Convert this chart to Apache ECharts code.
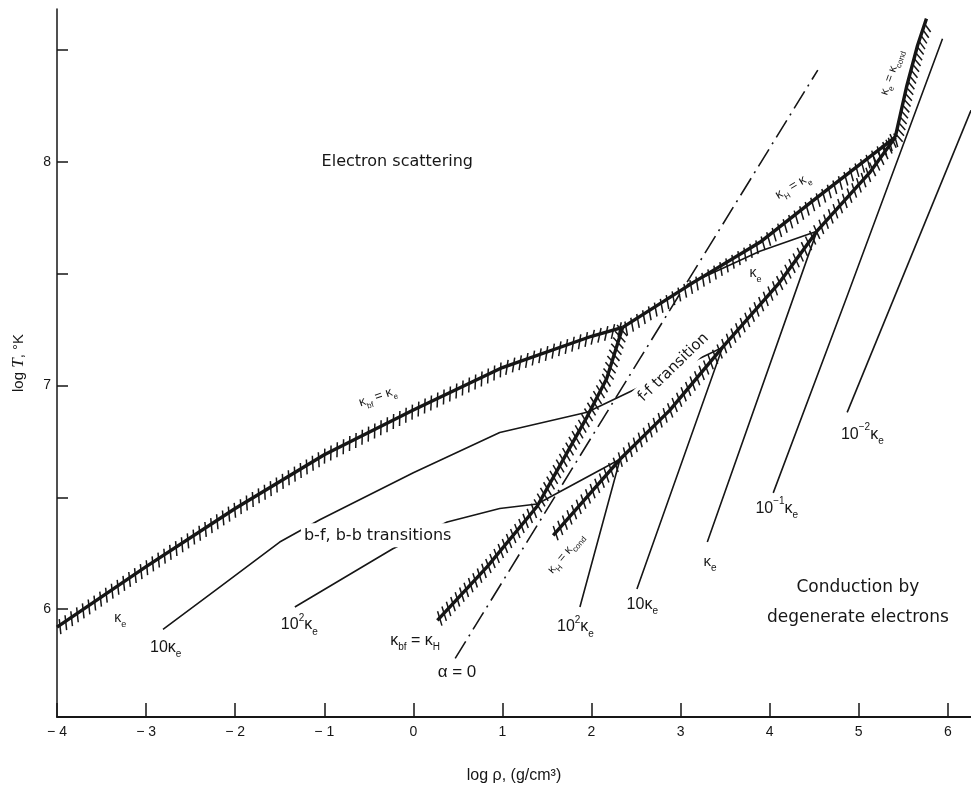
<!DOCTYPE html>
<html><head><meta charset="utf-8">
<script src="https://cdn.jsdelivr.net/npm/echarts@6/dist/echarts.min.js"></script>
<style>html,body{margin:0;padding:0;background:#fff}#c{width:971px;height:789px}</style>
</head><body><div id="c"></div>
<script>
// ---- axis ticks ----
const xTicks = [-4, -3, -2, -1, 0, 1, 2, 3, 4, 5, 6];
const yTickLabels = [6, 7, 8];
const yTicks = [6, 6.5, 7, 7.5, 8, 8.5];

// ---- hatched boundary curves [log rho, log T] ----
const kbfEqKe   = [[-4,5.92],[-3,6.19],[-2,6.45],[-1,6.69],[0,6.89],[1,7.08],[2,7.22],[2.35,7.26]];
const kHEqKe    = [[2.35,7.26],[3.14,7.46],[3.89,7.64],[4.53,7.84],[5.41,8.11]];
const kbfEqKH   = [[0.27,5.95],[0.83,6.19],[1.39,6.46],[1.95,6.86],[2.17,7.03],[2.35,7.26]];
const kHEqKcond = [[1.57,6.33],[2.32,6.67],[2.88,6.89],[3.47,7.17],[4.11,7.46],[4.53,7.69],[5.12,7.95],[5.41,8.11]];
const keEqKcond = [[5.41,8.11],[5.54,8.34],[5.66,8.52],[5.76,8.64]];

// ---- alpha = 0 (dash-dot) ----
const alphaZero = [[0.47,5.78],[4.54,8.41]];

// ---- constant-opacity contours ----
const tenKe       = [[-2.81,5.91],[-2.17,6.10],[-1.50,6.30],[-1.05,6.40],[0,6.61],[0.97,6.79],[1.95,6.88],[3.47,7.17],[2.51,6.09]];
const hundredKe   = [[-1.33,6.01],[-0.23,6.27],[0.38,6.39],[0.97,6.45],[1.39,6.47],[2.32,6.67],[1.87,6.01]];
const oneKe       = [[3.07,7.45],[3.89,7.60],[4.53,7.69],[3.30,6.30]];
const tenthKe     = [[4.04,6.52],[4.87,7.40],[5.94,8.55]];
const hundredthKe = [[4.87,6.88],[6.26,8.23]];

const INK = '#161616';
const chart = echarts.init(document.getElementById('c'));

function thin(name, data, extra) {
  return Object.assign({type:'line', name, data, symbol:'none', showSymbol:false, silent:true,
    animation:false, z:2, lineStyle:{color:INK, width:1.6}}, extra || {});
}
function thick(name, data) {
  return {type:'line', name, data, symbol:'none', showSymbol:false, silent:true, animation:false,
    z:4, lineStyle:{color:INK, width:3.4}};
}
function hatch(data, o) {
  return {
    type:'custom', coordinateSystem:'cartesian2d', silent:true, animation:false, z:3, clip:true,
    data: data, encode:{x:0, y:1},
    renderItem: function (params, api) {
      if (params.dataIndex !== 0) return null;
      const P = data.map(p => api.coord(p));
      const kids = [];
      const lean = o.lean * Math.PI / 180;
      let carry = o.step / 2;
      for (let i = 0; i < P.length - 1; i++) {
        const x0 = P[i][0], y0 = P[i][1], x1 = P[i+1][0], y1 = P[i+1][1];
        const L = Math.hypot(x1 - x0, y1 - y0);
        if (L < 0.01) continue;
        const tx = (x1 - x0) / L, ty = (y1 - y0) / L;
        const nx = -ty, ny = tx;
        const hx = nx * Math.cos(lean) - tx * Math.sin(lean);
        const hy = ny * Math.cos(lean) - ty * Math.sin(lean);
        let s = carry;
        while (s <= L) {
          const px = x0 + tx * s, py = y0 + ty * s;
          kids.push({type:'line', shape:{x1:px - hx*o.a, y1:py - hy*o.a, x2:px + hx*o.b, y2:py + hy*o.b},
            style:{stroke:INK, lineWidth:o.w}});
          s += o.step;
        }
        carry = s - L;
      }
      return {type:'group', children:kids};
    }
  };
}

const series = [
  thin('alpha=0', alphaZero, {lineStyle:{color:INK, width:1.6, type:[20,6,2,6]}}),
  thin('10 ke', tenKe),
  thin('100 ke', hundredKe),
  thin('ke', oneKe),
  thin('0.1 ke', tenthKe),
  thin('0.01 ke', hundredthKe),
  thick('kbf=ke', kbfEqKe),
  thick('kH=ke', kHEqKe),
  thick('kbf=kH', kbfEqKH),
  thick('kH=kcond', kHEqKcond),
  thick('ke=kcond', keEqKcond),
  hatch(kbfEqKe,   {step:7, a:6, b:9, lean:28, w:1.5}),
  hatch(kHEqKe,    {step:7, a:4, b:10, lean:22, w:1.5}),
  hatch(kbfEqKH,   {step:6.5, a:7, b:8, lean:30, w:1.5}),
  hatch(kHEqKcond, {step:7, a:7, b:8, lean:30, w:1.5}),
  hatch(keEqKcond, {step:6, a:0, b:10, lean:35, w:1.5})
];

chart.setOption({
  animation:false,
  backgroundColor:'#fff',
  grid:{left:57, right:0, top:9, bottom:71},
  xAxis:{
    type:'value', min:-4, max:6.26,
    name:'log ρ, (g/cm³)', nameLocation:'middle', nameGap:51,
    nameTextStyle:{fontSize:16, fontFamily:'Liberation Sans', color:INK},
    axisLine:{show:true, onZero:false, lineStyle:{color:INK, width:2}},
    axisTick:{show:true, inside:true, length:14, customValues:xTicks, lineStyle:{color:INK, width:1.5}},
    axisLabel:{customValues:xTicks, margin:8, fontSize:14, fontFamily:'Liberation Sans', color:INK,
      formatter: v => (v < 0 ? '− ' + Math.abs(v) : String(v))},
    splitLine:{show:false}
  },
  yAxis:{
    type:'value', min:5.518, max:8.683,
    name:'log {t|T}, °K', nameLocation:'middle', nameRotate:90, nameGap:30,
    nameTextStyle:{fontSize:15, fontFamily:'Liberation Sans', color:INK,
      rich:{t:{fontSize:17, fontFamily:'Liberation Serif', fontStyle:'italic', color:INK}}},
    axisLine:{show:true, onZero:false, lineStyle:{color:INK, width:1.5}},
    axisTick:{show:true, inside:true, length:11, customValues:yTicks, lineStyle:{color:INK, width:1.5}},
    axisLabel:{customValues:yTickLabels, margin:6, fontSize:14, fontFamily:'Liberation Sans', color:INK},
    splitLine:{show:false}
  },
  series: series
});

// ---- text annotations (anchor in data coordinates) ----
const labelDefs = [
  {text:'Electron scattering', at:[-0.18,8.0], size:16, family:'DejaVu Sans'},
  {text:'Conduction by\ndegenerate electrons', at:[4.99,6.03], size:17, family:'DejaVu Sans', lh:30},
  {text:'b-f, b-b transitions', at:[-0.40,6.33], size:16, family:'DejaVu Sans', bg:true},
  {text:'κ{s|bf} = κ{s|e}', at:[-0.40,6.95], size:13, rot:19},
  {text:'f-f transition', at:[2.92,7.08], size:15, family:'DejaVu Sans', rot:44, bg:true},
  {text:'κ{s|H} = κ{s|cond}', at:[1.71,6.25], size:12, rot:50},
  {text:'κ{s|H} = κ{s|e}', at:[4.26,7.89], size:13, rot:31},
  {text:'κ{s|e} = κ{s|cond}', at:[5.37,8.40], size:12, rot:71},
  {text:'κ{s|e}', at:[3.84,7.50], size:14},
  {text:'κ{s|e}', at:[-3.29,5.96], size:14},
  {text:'10κ{s|e}', at:[-2.78,5.83], size:16},
  {text:'10{p|2}κ{s|e}', at:[-1.28,5.93], size:16},
  {text:'κ{s|bf} = κ{s|H}', at:[0.02,5.86], size:16},
  {text:'α = 0', at:[0.49,5.72], size:17},
  {text:'10{p|2}κ{s|e}', at:[1.82,5.92], size:16},
  {text:'10κ{s|e}', at:[2.57,6.02], size:16},
  {text:'κ{s|e}', at:[3.33,6.21], size:15},
  {text:'10{p|−1}κ{s|e}', at:[4.08,6.45], size:16},
  {text:'10{p|−2}κ{s|e}', at:[5.04,6.78], size:16}
];

function buildGraphic() {
  return labelDefs.map(d => {
    const pt = chart.convertToPixel({gridIndex:0}, d.at);
    const fam = d.family || 'Liberation Sans';
    const lh = d.lh || Math.round(d.size * 1.5);
    const small = Math.round(d.size * 0.65);
    const style = {
      text:d.text, fontSize:d.size, fontFamily:fam, fill:INK,
      align:'center', verticalAlign:'middle', lineHeight:lh,
      rich:{
        s:{fontSize:small, fontFamily:fam, fill:INK, verticalAlign:'bottom', lineHeight:lh},
        p:{fontSize:small, fontFamily:fam, fill:INK, verticalAlign:'top', lineHeight:lh}
      }
    };
    if (d.bg) { style.backgroundColor = '#fff'; style.padding = [0, 3]; }
    return {type:'text', x:pt[0], y:pt[1], rotation:(d.rot || 0) * Math.PI / 180, z:100, silent:true, style:style};
  });
}
chart.setOption({graphic: buildGraphic()});
</script>
</body></html>
